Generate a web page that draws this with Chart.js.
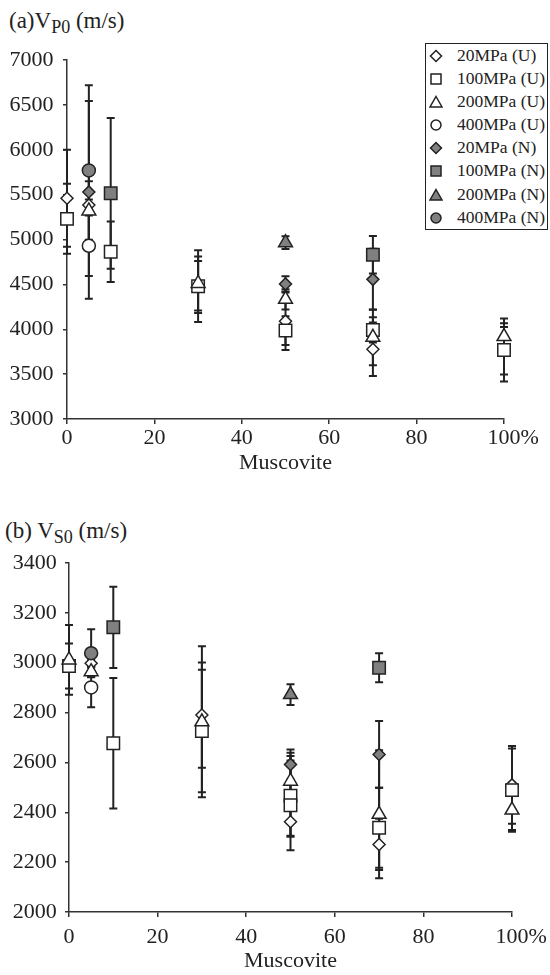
<!DOCTYPE html>
<html>
<head>
<meta charset="utf-8">
<script src="https://cdn.jsdelivr.net/npm/chart.js@4.4.1/dist/chart.umd.min.js"></script>
<style>
  html, body { margin: 0; padding: 0; background: #fff; }
  body { width: 550px; height: 975px; position: relative; overflow: hidden; font-family: "Liberation Serif", serif; color: #222; }
  .panel { position: absolute; left: 0; width: 550px; }
  #p1 { top: 0; height: 480px; }
  #p2 { top: 487px; height: 488px; }
  .ttl { position: absolute; font-size: 23px; line-height: 23px; white-space: nowrap; }
  .ttl span { font-size: 18px; position: relative; top: 5px; }
  #legend { position: absolute; left: 425px; top: 43px; width: 121px; border: 1.5px solid #222; background: #fff; padding: 0; }
  #legend div { height: 23.1px; line-height: 23.1px; font-size: 17.5px; white-space: nowrap; position: relative; padding-left: 31px; }
  #legend svg { position: absolute; left: 3px; top: 5px; }
</style>
</head>
<body>
<div class="ttl" style="left:9px;top:9px">(a)V<span>P0</span> (m/s)</div>
<div class="panel" id="p1"><canvas id="chart-vp" width="550" height="480"></canvas></div>
<div class="ttl" style="left:5px;top:519px">(b) V<span>S0</span> (m/s)</div>
<div class="panel" id="p2"><canvas id="chart-vs" width="550" height="488"></canvas></div>
<div id="legend"></div>
<script>
// Serie: [muscovita %, velocidad m/s, barra de error ±]
const seriesLabels = ['20MPa (U)', '100MPa (U)', '200MPa (U)', '400MPa (U)', '20MPa (N)', '100MPa (N)', '200MPa (N)', '400MPa (N)'];
const seriesShapes = ['rectRot', 'rect', 'triangle', 'circle', 'rectRot', 'rect', 'triangle', 'circle'];
const seriesFilled = [false, false, false, false, true, true, true, true];

// (a) Vp0
const vpU20  = [[0, 5460, 540], [5, 5385, 60], [30, 4470, 290], [50, 4090, 320], [70, 3777, 298], [100, 3760, 265]];
const vpU100 = [[0, 5230, 390], [10, 4864, 337], [30, 4480, 400], [50, 3985, 160], [70, 3992, 141], [100, 3769, 350]];
const vpU200 = [[5, 5318, 330], [30, 4510, 300], [50, 4333, 113], [70, 3910, 310], [100, 3918, 148]];
const vpU400 = [[5, 4930, 337]];
const vpN20  = [[5, 5530, 1190], [50, 4505, 85], [70, 4556, 340]];
const vpN100 = [[10, 5515, 840], [70, 4830, 210]];
const vpN200 = [[50, 4965, 70]];
const vpN400 = [[5, 5770, 773]];

// (b) Vs0
const vsU20  = [[5, 2998, 15], [30, 2790, 211], [50, 2362, 60], [70, 2271, 103], [100, 2510, 156]];
const vsU100 = [[0, 2987, 90], [10, 2677, 262], [30, 2726, 246], [50, 2466, 160], [50, 2428, 180], [70, 2338, 160], [100, 2489, 167]];
const vsU200 = [[0, 3011, 140], [5, 2964, 20], [30, 2763, 303], [50, 2525, 114], [70, 2392, 257], [100, 2409, 80]];
const vsU400 = [[5, 2901, 80]];
const vsN20  = [[50, 2592, 60], [70, 2632, 134]];
const vsN100 = [[10, 3142, 163], [70, 2980, 58]];
const vsN200 = [[50, 2872, 42]];
const vsN400 = [[5, 3038, 96]];

const xTicks = [0, 20, 40, 60, 80, 100];
const vpRange = [3000, 7000, 500];
const vsRange = [2000, 3400, 200];

const INK = '#222', GRAY = '#808080', FONT = 'Liberation Serif';
const radius = { rectRot: 6, rect: 8.8, triangle: 8, circle: 6.5 };

/** Barras de error verticales con remate, detrás de los marcadores. */
const errorBars = {
  id: 'errorBars',
  beforeDatasetsDraw(chart) {
    const { ctx, scales: { x, y } } = chart;
    ctx.save();
    ctx.strokeStyle = INK;
    ctx.lineWidth = 2;
    chart.data.datasets.forEach(ds => ds.data.forEach(p => {
      if (!p.err) return;
      const px = x.getPixelForValue(p.x);
      const top = y.getPixelForValue(p.y + p.err), bot = y.getPixelForValue(p.y - p.err);
      ctx.beginPath();
      ctx.moveTo(px, top); ctx.lineTo(px, bot);
      ctx.moveTo(px - 4, top); ctx.lineTo(px + 4, top);
      ctx.moveTo(px - 4, bot); ctx.lineTo(px + 4, bot);
      ctx.stroke();
    }));
    ctx.restore();
  },
};

/** El "%" va pegado a la etiqueta 100, sin recentrarla. */
const pctLabel = {
  id: 'pctLabel',
  afterDraw(chart) {
    const s = chart.scales.x;
    const it = s.getLabelItems().find(o => o.label === '100');
    if (!it) return;
    const ctx = chart.ctx;
    ctx.save();
    ctx.font = `22px "${FONT}"`;
    ctx.fillStyle = INK;
    ctx.textBaseline = it.options.textBaseline;
    ctx.textAlign = 'left';
    const [tx, ty] = it.options.translation;
    ctx.fillText('%', tx + ctx.measureText('100').width / 2, ty + it.textOffset);
    ctx.restore();
  },
};

function datasets(list) {
  return list.map((rows, i) => ({
    label: seriesLabels[i],
    data: rows.map(([x, y, err]) => ({ x, y, err })),
    pointStyle: seriesShapes[i],
    pointRadius: radius[seriesShapes[i]],
    backgroundColor: seriesFilled[i] ? GRAY : '#fff',
    borderColor: INK,
    borderWidth: 1.5,
    clip: false,
    order: list.length - i, // la última serie queda encima, como en el original
  }));
}

function make(id, list, range, g) {
  const [min, max, step] = range;
  new Chart(document.getElementById(id), {
    type: 'scatter',
    data: { datasets: datasets(list) },
    plugins: [errorBars, pctLabel],
    options: {
      responsive: false,
      animation: false,
      layout: { padding: { top: g.top, right: g.right, left: 0, bottom: 0 } },
      plugins: { legend: { display: false }, tooltip: { enabled: false } },
      scales: {
        x: {
          type: 'linear', min: 0, max: 100,
          afterBuildTicks: s => { s.ticks = xTicks.map(v => ({ value: v })); },
          afterFit: s => { s.height = g.xh; },
          ticks: { color: INK, font: { family: FONT, size: 22 }, padding: g.xpad, maxRotation: 0, callback: v => String(v) },
          grid: { drawOnChartArea: false, drawTicks: true, tickLength: 5, color: '#333', lineWidth: 1.5 },
          border: { color: '#333', width: 1.5 },
          title: { display: true, text: 'Muscovite', color: INK, font: { family: FONT, size: 22 }, padding: { top: 0, bottom: g.tpad } },
        },
        y: {
          min, max,
          ticks: { stepSize: step, color: INK, font: { family: FONT, size: 22 }, padding: g.ypad, callback: v => String(v) },
          afterFit: s => { s.width = g.yw; },
          grid: { drawOnChartArea: false, drawTicks: true, tickLength: 4, color: '#333', lineWidth: 1.5 },
          border: { color: '#333', width: 1.5 },
        },
      },
    },
  });
}

make('chart-vp', [vpU20, vpU100, vpU200, vpU400, vpN20, vpN100, vpN200, vpN400], vpRange,
  { top: 60, right: 46, yw: 67, xh: 61, xpad: 1, ypad: 9.5, tpad: 3.8 });
make('chart-vs', [vsU20, vsU100, vsU200, vsU400, vsN20, vsN100, vsN200, vsN400], vsRange,
  { top: 76, right: 38, yw: 69, xh: 63, xpad: 7, ypad: 8.3, tpad: 0.8 });

// Leyenda (dentro del área de la gráfica superior)
const svgShape = {
  rectRot: '<polygon points="7,1.5 12.5,7 7,12.5 1.5,7"/>',
  rect: '<rect x="2" y="2" width="10" height="10"/>',
  triangle: '<polygon points="7,1.5 13,12 1,12"/>',
  circle: '<circle cx="7" cy="7" r="5"/>',
};
document.getElementById('legend').innerHTML = seriesLabels.map((lab, i) =>
  `<div><svg width="14" height="14" fill="${seriesFilled[i] ? GRAY : '#fff'}" stroke="${INK}" stroke-width="1.5">${svgShape[seriesShapes[i]]}</svg>${lab}</div>`
).join('');
</script>
</body>
</html>
